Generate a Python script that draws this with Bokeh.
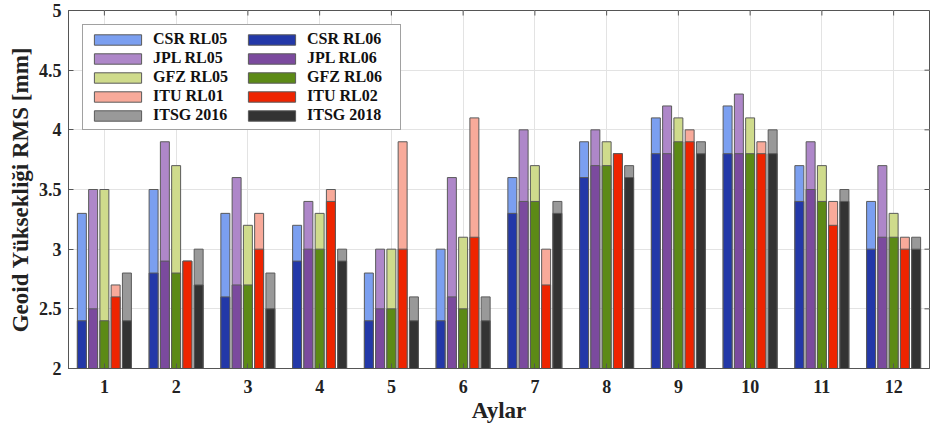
import math
from bokeh.plotting import figure
from bokeh.models import Legend, LegendItem, FixedTicker, Range1d, ColumnDataSource
from bokeh.embed import file_html
from bokeh.resources import INLINE

months = [1, 2, 3, 4, 5, 6, 7, 8, 9, 10, 11, 12]
month_labels = [str(m) for m in months]
y_ticks = [2, 2.5, 3, 3.5, 4, 4.5, 5]

csr_rl05 = [3.3, 3.5, 3.3, 3.2, 2.8, 3.0, 3.6, 3.9, 4.1, 4.2, 3.7, 3.4]
csr_rl06 = [2.4, 2.8, 2.6, 2.9, 2.4, 2.4, 3.3, 3.6, 3.8, 3.8, 3.4, 3.0]
jpl_rl05 = [3.5, 3.9, 3.6, 3.4, 3.0, 3.6, 4.0, 4.0, 4.2, 4.3, 3.9, 3.7]
jpl_rl06 = [2.5, 2.9, 2.7, 3.0, 2.5, 2.6, 3.4, 3.7, 3.8, 3.8, 3.5, 3.1]
gfz_rl05 = [3.5, 3.7, 3.2, 3.3, 3.0, 3.1, 3.7, 3.9, 4.1, 4.1, 3.7, 3.3]
gfz_rl06 = [2.4, 2.8, 2.7, 3.0, 2.5, 2.5, 3.4, 3.7, 3.9, 3.8, 3.4, 3.1]
itu_rl01 = [2.7, 2.9, 3.3, 3.5, 3.9, 4.1, 3.0, 3.8, 4.0, 3.9, 3.4, 3.1]
itu_rl02 = [2.6, 2.9, 3.0, 3.4, 3.0, 3.1, 2.7, 3.8, 3.9, 3.8, 3.2, 3.0]
itsg_2016 = [2.8, 3.0, 2.8, 3.0, 2.6, 2.6, 3.4, 3.7, 3.9, 4.0, 3.5, 3.1]
itsg_2018 = [2.4, 2.7, 2.5, 2.9, 2.4, 2.4, 3.3, 3.6, 3.8, 3.8, 3.4, 3.0]

groups = [
    ("CSR RL05", csr_rl05, "#7b9ff0", "CSR RL06", csr_rl06, "#2338a8"),
    ("JPL RL05", jpl_rl05, "#ae87c9", "JPL RL06", jpl_rl06, "#7b4a9e"),
    ("GFZ RL05", gfz_rl05, "#cfdb8c", "GFZ RL06", gfz_rl06, "#5c8a16"),
    ("ITU RL01", itu_rl01, "#f8aa9a", "ITU RL02", itu_rl02, "#ee2400"),
    ("ITSG 2016", itsg_2016, "#999999", "ITSG 2018", itsg_2018, "#333333"),
]

FONT = "Liberation Serif"
X0, X1, Y0, Y1 = 0.5, 12.5, 2, 5

p = figure(width=930, height=431, x_range=Range1d(X0, X1), y_range=Range1d(Y0, Y1),
           output_backend="svg", toolbar_location=None,
           min_border_left=68, min_border_right=1, min_border_top=10, min_border_bottom=63)

p.outline_line_color = "#555555"
p.outline_line_width = 1

p.xgrid.ticker = FixedTicker(ticks=months)
p.ygrid.ticker = FixedTicker(ticks=y_ticks)
p.grid.grid_line_color = "#e3e3e3"
p.grid.grid_line_width = 1

pitch = 0.157
bw = 0.125
items_old = []
items_new = []
for k, (n5, v5, c5, n6, v6, c6) in enumerate(groups):
    xs = [m + (k - 2) * pitch for m in months]
    src5 = ColumnDataSource(dict(x=xs, top=v5))
    src6 = ColumnDataSource(dict(x=xs, top=v6))
    r5 = p.vbar(x="x", top="top", bottom=0, width=bw, source=src5, fill_color=c5,
                line_color="#5a5a5a", line_width=1)
    r6 = p.vbar(x="x", top="top", bottom=0, width=bw, source=src6, fill_color=c6,
                line_color="#5a5a5a", line_width=1)
    items_old.append(LegendItem(label=n5, renderers=[r5]))
    items_new.append(LegendItem(label=n6, renderers=[r6]))

# inward tick marks on the top and right sides of the box
p.ray(x=[X1] * len(y_ticks), y=y_ticks, length=5, length_units="screen",
      angle=math.pi, line_color="#555555", line_width=1)
p.ray(x=months, y=[Y1] * len(months), length=5, length_units="screen",
      angle=-math.pi / 2, line_color="#555555", line_width=1)

legend = Legend(items=items_old + items_new, location="top_left", orientation="vertical", nrows=5)
legend.label_text_font = FONT
legend.label_text_font_style = "bold"
legend.label_text_font_size = "16px"
legend.label_text_color = "#111111"
legend.glyph_width = 59
legend.glyph_height = 13
legend.label_standoff = 6
legend.label_width = 88
legend.label_height = 13
legend.spacing = 1
legend.padding = 5
legend.margin = 14
legend.border_line_color = "#444444"
legend.border_line_width = 1
legend.background_fill_alpha = 1
p.add_layout(legend)

# axes
p.xaxis.ticker = FixedTicker(ticks=months)
p.xaxis.major_label_overrides = {m: l for m, l in zip(months, month_labels)}
p.yaxis.ticker = FixedTicker(ticks=y_ticks)
for ax in (p.xaxis[0], p.yaxis[0]):
    ax.major_label_text_font = FONT
    ax.major_label_text_font_style = "bold"
    ax.major_label_text_font_size = "18px"
    ax.major_label_text_color = "#222222"
    ax.axis_label_text_font = FONT
    ax.axis_label_text_font_style = "bold"
    ax.axis_label_text_font_size = "23px"
    ax.axis_label_text_color = "#222222"
    ax.major_tick_in = 5
    ax.major_tick_out = 0
    ax.minor_tick_in = 0
    ax.minor_tick_out = 0
    ax.axis_line_color = "#555555"
    ax.major_tick_line_color = "#555555"
p.xaxis.axis_label = "Aylar"
p.yaxis.axis_label = "Geoid Yüksekliği RMS [mm]"
p.xaxis.major_label_standoff = 11
p.yaxis.major_label_standoff = 7
p.xaxis.axis_label_standoff = 2
p.yaxis.axis_label_standoff = 3

open("out.html", "w").write(file_html(p, INLINE))
